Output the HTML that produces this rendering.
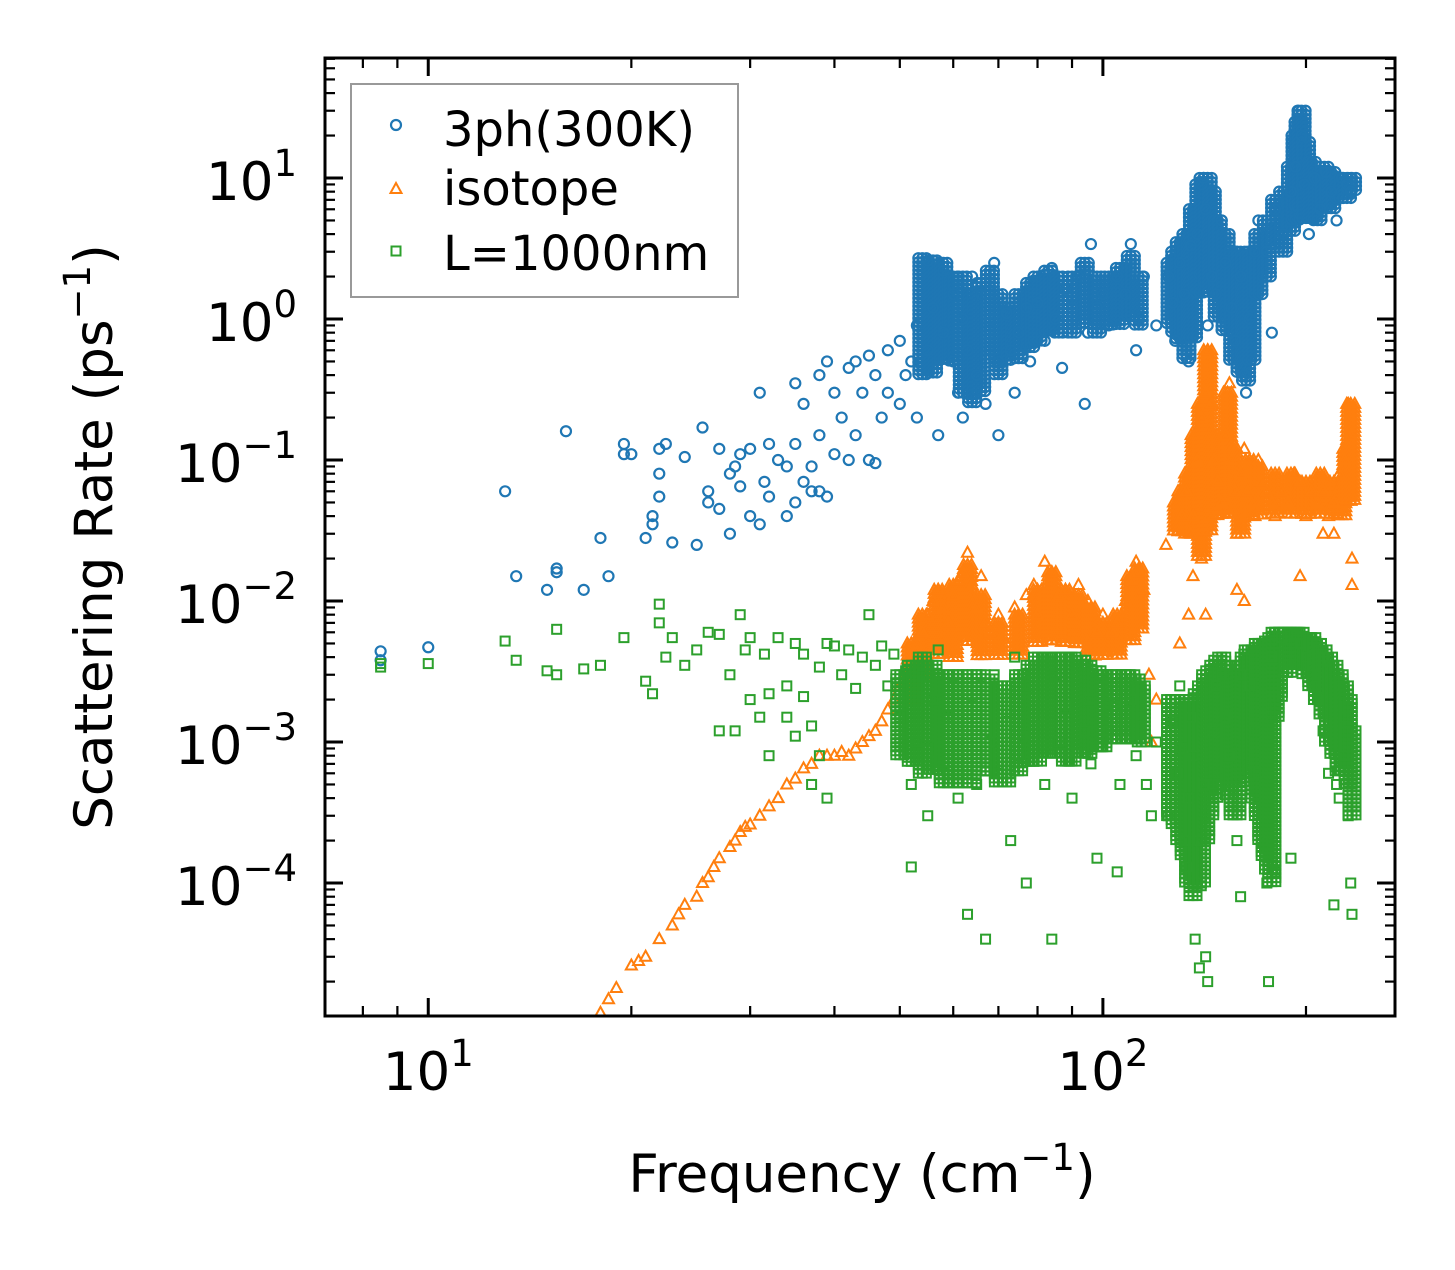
<!DOCTYPE html>
<html><head><meta charset="utf-8"><style>
body{margin:0;background:#fff}
svg text{font-family:"DejaVu Sans","Liberation Sans",sans-serif;fill:#000}
</style></head><body>
<svg id="chart" width="1455" height="1265" viewBox="0 0 1455 1265" xmlns="http://www.w3.org/2000/svg">
<g id="plot"></g>
<g id="axes"></g>
</svg>
<script>
// ---- data ----
const blueFreq=[8.5,8.5,10,13,13.5,15,15.5,15.5,16,17,18,18.5,19.5,19.5,20,21,21.5,21.5,22,22,22,22.5,23,24,25,25.5,26,26,27,27,28,28,28.5,29,29,30,30,31,31,31.5,32,32,33,34,34,35,35,35,36,36,37,37,38,38,38,39,39,40,40,41,42,42,43,43,44,45,45,46,46,47,48,48,50,50,51,52,53,53,55,55,56,57,58,58,60,60,61,62,62,63,64,65,66,67,68,69,70,70,72,73,74,75,77,78,80,82,84,85,87,88,90,92,94,95,96,98,100,102,105,108,110,112,113,115,120,125,127,128,130,132,134,135,138,140,141,142,143,145,147,150,152,155,157,160,162,163,165,168,170,175,178,180,185,190,193,195,197,199,202,206,210,214,218,222,226,230,233];
const blueRate=[0.0044,0.0038,0.0047,0.06,0.015,0.012,0.016,0.017,0.16,0.012,0.028,0.015,0.13,0.11,0.11,0.028,0.04,0.035,0.055,0.08,0.12,0.13,0.026,0.105,0.025,0.17,0.05,0.06,0.12,0.045,0.08,0.03,0.09,0.065,0.11,0.04,0.12,0.035,0.3,0.07,0.13,0.055,0.1,0.04,0.09,0.35,0.13,0.05,0.07,0.25,0.09,0.06,0.15,0.06,0.4,0.055,0.5,0.11,0.3,0.2,0.1,0.45,0.15,0.5,0.3,0.1,0.55,0.095,0.4,0.2,0.6,0.3,0.7,0.25,0.4,0.5,0.9,0.2,0.6,2.6,1.2,0.15,2.2,0.8,1.5,0.5,0.3,1.0,0.2,0.6,2.0,0.4,1.5,0.25,1.0,2.5,0.5,0.15,1.1,0.6,0.3,0.8,1.2,0.5,1.3,0.7,2.3,1.0,0.45,1.6,1.2,2.0,0.25,0.8,3.4,1.2,1.5,0.9,2.0,1.5,3.4,0.6,1.0,2.0,0.9,2.0,1.3,0.7,2.5,1.5,0.5,3.3,4,9,10,6,0.9,2.0,1.5,5,2.5,1.2,0.7,2.0,0.4,0.3,1.0,3,5,3,0.8,6,4,8,12,30,20,9,4,10,6,11,8,5,10,9,8,2.3,3];
const blueBandFreq=[54,56,58,60,62,64,66,68,70,72,75,78,80,83,86,90,94,98,102,106,110,113,126,128,130,133,136,139,141,143,145,148,152,156,160,163,166,170,175,180,185,190,193,195,197,200,204,208,213,218,224,230,234];
const blueBandLo=[0.4,0.4,0.5,0.5,0.3,0.25,0.3,0.5,0.4,0.5,0.5,0.6,0.7,0.8,0.8,0.8,0.9,0.8,0.9,0.9,1,0.9,0.9,0.8,0.7,0.5,0.7,1.5,2,1.8,1.5,1,0.8,0.5,0.4,0.35,0.5,1.5,2,3,3,4,5,6,6,5,5,5,6,6,7,7,8];
const blueBandHi=[2.7,2.6,2.5,2,2,1.5,1.8,2.2,1.5,1.2,1.5,1.8,2,2.2,2,2,2.5,2,2,2.3,2.8,2,2.5,3,3.5,4,6,9,10,10,8,5,4,3,3,2,3,4,5,7,8,12,20,25,30,18,13,11,12,11,10,10,10];

const orangeFreq=[18,18.5,19,20,20.5,21,22,23,23.5,24,25,25.5,26,26.5,27,28,28.5,29,29.5,30,31,32,33,34,35,36,37,38,39,40,41,42,43,44,45,46,47,48,49,50,51,52,53,54,55,56,57,58,59,60,61,62,63,64,65,66,67,68,70,72,74,75,77,79,80,82,84,86,88,90,92,95,98,100,103,105,108,110,112,113,115,117,118,120,130,131,133,135,136,138,140,142,143,144,145,146,148,150,152,154,155,157,158,160,162,164,166,168,170,172,175,178,180,184,188,192,196,200,204,208,212,216,220,224,228,231,233,234,234,134,136,140,142,158,162,196,212,220,124];
const orangeRate=[1.2e-5,1.5e-5,1.8e-5,2.6e-5,2.8e-5,3e-5,4e-5,5e-5,6e-5,7e-5,8e-5,1e-4,1.1e-4,1.3e-4,1.5e-4,1.8e-4,2e-4,2.3e-4,2.5e-4,2.6e-4,3e-4,3.5e-4,4e-4,5e-4,5.5e-4,6.5e-4,7e-4,8e-4,8e-4,8e-4,8.5e-4,8e-4,9e-4,1e-3,1.1e-3,1.2e-3,1.4e-3,1.7e-3,2e-3,2.5e-3,3e-3,3.2e-3,4e-3,6e-3,8e-3,1e-2,1.2e-2,9e-3,7e-3,1.1e-2,1.4e-2,1.6e-2,2.2e-2,1.3e-2,9e-3,1.5e-2,7e-3,6e-3,8e-3,5e-3,9e-3,7e-3,1.1e-2,1.3e-2,8e-3,1.9e-2,1.6e-2,1.1e-2,1.2e-2,8e-3,1.3e-2,1e-2,6e-3,8e-3,6e-3,7e-3,1e-2,1.4e-2,1.9e-2,1.6e-2,1.2e-2,3e-3,1e-3,2e-3,5e-3,4e-2,6e-2,3e-2,4e-2,0.1,0.2,0.3,0.6,0.5,0.25,0.1,0.07,0.05,0.15,0.35,0.1,0.06,0.03,0.08,0.12,0.06,0.05,0.04,0.1,0.07,0.06,0.05,0.04,0.06,0.05,0.08,0.07,0.04,0.06,0.05,0.06,0.04,0.05,0.08,0.1,0.25,0.15,0.02,0.013,0.008,0.015,0.02,0.008,0.012,0.01,0.015,0.03,0.03,0.025,0.005];
const orangeBandFreq=[52,54,57,60,63,66,70,75,80,84,88,92,96,100,105,110,113,129,131,134,137,140,143,146,150,153,156,160,165,170,180,190,200,210,220,226,230,233];
const orangeBandLo=[2e-3,3e-3,4e-3,4e-3,5e-3,4e-3,4e-3,4e-3,5e-3,5e-3,5e-3,5e-3,4e-3,4e-3,4e-3,5e-3,6e-3,0.03,0.03,0.03,0.03,0.02,0.03,0.04,0.04,0.05,0.04,0.03,0.04,0.04,0.04,0.04,0.04,0.04,0.04,0.04,0.05,0.05];
const orangeBandHi=[5e-3,8e-3,1.2e-2,1.3e-2,1.8e-2,1.1e-2,7e-3,8e-3,1.2e-2,1.6e-2,1.2e-2,1.1e-2,9e-3,7e-3,8e-3,1.5e-2,1.7e-2,0.05,0.06,0.08,0.15,0.25,0.6,0.15,0.07,0.3,0.12,0.08,0.1,0.09,0.08,0.08,0.07,0.08,0.07,0.06,0.12,0.25];

const greenFreq=[8.5,8.5,10,13,13.5,15,15.5,15.5,17,18,19.5,21,21.5,22,22,22.5,23,24,25,26,27,27,28,28.5,29,29.5,30,30,31,31.5,32,32,33,34,34,35,35,36,36,37,37,38,38,39,39,40,41,42,43,44,45,46,47,48,49,50,51,52,52,53,54,55,55,56,57,58,59,60,61,62,63,64,65,66,67,68,69,70,72,73,74,75,76,77,78,80,82,84,85,86,88,90,92,94,95,96,98,100,102,104,105,106,108,110,112,114,116,118,120,125,127,129,130,131,132,133,134,135,136,137,138,139,140,141,142,143,145,147,148,150,152,154,156,158,160,162,165,168,170,172,175,176,178,180,184,188,192,196,200,204,208,212,216,220,222,224,227,229,231,233,234,180,160,190];
const greenRate=[0.0034,0.0036,0.0036,0.0052,0.0038,0.0032,0.003,0.0063,0.0033,0.0035,0.0055,0.0027,0.0022,0.0095,0.007,0.004,0.0055,0.0035,0.0045,0.006,0.0012,0.0058,0.003,0.0012,0.008,0.0045,0.0055,0.002,0.0015,0.0042,0.0022,0.0008,0.0055,0.0025,0.0015,0.005,0.0011,0.0021,0.0042,0.0005,0.0013,0.0034,0.0008,0.005,0.0004,0.0048,0.003,0.0045,0.0024,0.004,0.008,0.0035,0.0048,0.0025,0.0042,0.0015,0.0032,0.0005,0.00013,0.001,0.003,0.0009,0.0003,0.002,0.0045,0.0007,0.0015,0.0025,0.0004,0.0012,0.00006,0.0018,0.0005,0.0025,0.00004,0.001,0.003,0.0006,0.0014,0.0002,0.004,0.0008,0.0011,0.0001,0.0025,0.0015,0.0005,0.00004,0.003,0.001,0.0018,0.0004,0.0035,0.0012,0.002,0.0007,0.00015,0.0025,0.0012,0.0018,0.00012,0.0005,0.003,0.002,0.0008,0.0015,0.0005,0.0003,0.001,0.0003,0.0014,0.0006,0.0025,0.0009,0.0002,0.00013,0.0004,0.0015,0.0008,0.00004,0.0002,0.000025,0.0001,0.0005,0.00003,0.00002,0.0012,0.0025,0.0006,0.003,0.0015,0.0008,0.0004,0.0002,0.003,0.0045,0.0025,0.0012,0.0006,0.0002,0.0001,0.00002,0.004,0.005,0.0055,0.006,0.0058,0.005,0.004,0.003,0.002,0.0012,0.0006,0.00007,0.0005,0.0004,0.0008,0.0015,0.0003,0.0001,0.00006,0.00012,0.00008,0.00015];
const greenBandFreq=[50,52,54,56,58,60,62,64,66,68,70,72,75,78,80,83,85,88,90,93,95,98,100,103,105,108,110,112,114,126,128,130,132,134,136,138,140,142,144,146,148,150,152,154,156,158,160,162,164,166,168,170,172,174,176,178,180,182,185,188,192,196,200,204,208,212,216,220,224,228,231,234];
const greenBandLo=[8e-4,7e-4,6e-4,6e-4,5e-4,5e-4,5e-4,5e-4,6e-4,6e-4,5e-4,5e-4,6e-4,7e-4,7e-4,8e-4,8e-4,7e-4,7e-4,8e-4,8e-4,9e-4,9e-4,1e-3,1e-3,1e-3,1e-3,1e-3,1e-3,3e-4,2.5e-4,2e-4,1.5e-4,1e-4,8e-5,9e-5,1e-4,2e-4,3e-4,4e-4,5e-4,6e-4,5e-4,4e-4,3e-4,3e-4,5e-4,1e-3,8e-4,6e-4,4e-4,3e-4,2e-4,1.5e-4,1.2e-4,1e-4,1.5e-3,2e-3,3e-3,3e-3,3.5e-3,3.5e-3,3e-3,2.5e-3,2e-3,1.5e-3,1e-3,8e-4,6e-4,6e-4,5e-4,3e-4];
const greenBandHi=[3e-3,3.5e-3,4e-3,3.5e-3,3e-3,3e-3,3e-3,3e-3,3e-3,2.8e-3,2.5e-3,2.5e-3,3e-3,3.5e-3,4e-3,4e-3,4e-3,4e-3,4e-3,3.8e-3,3.5e-3,3.2e-3,3e-3,3e-3,3e-3,3e-3,3e-3,2.8e-3,2.5e-3,2e-3,2e-3,2e-3,1.9e-3,1.8e-3,2e-3,2.2e-3,2.5e-3,3e-3,3.2e-3,3.5e-3,3.8e-3,4e-3,3.5e-3,3e-3,3e-3,3e-3,3.5e-3,4e-3,4.2e-3,4.5e-3,4.5e-3,5e-3,5e-3,5e-3,5.2e-3,5.5e-3,6e-3,6e-3,6e-3,6e-3,6e-3,6e-3,5.5e-3,5.5e-3,5e-3,4.5e-3,4e-3,3.5e-3,3e-3,2.5e-3,2e-3,1.2e-3];

const xTickVals=[10,100];
const xTickLabels=["1","2"];
const yTickVals=[10,1,0.1,0.01,0.001,0.0001];
const yTickLabels=["1","0","\u22121","\u22122","\u22123","\u22124"];

// ---- scales ----
const L=325,R=1395,T=58,B=1016;
const xmin=Math.log10(7.03),xmax=Math.log10(271);
const ymin=-4.943,ymax=1.851;
const xs=v=>L+(Math.log10(v)-xmin)/(xmax-xmin)*(R-L);
const ys=v=>B-(Math.log10(v)-ymin)/(ymax-ymin)*(B-T);
const NS="http://www.w3.org/2000/svg";
const plot=document.getElementById('plot'), axes=document.getElementById('axes');
function mk(tag,attrs,parent){const e=document.createElementNS(NS,tag);for(const k in attrs)e.setAttribute(k,attrs[k]);parent.appendChild(e);return e;}

const clip=mk('clipPath',{id:'cp'},plot);mk('rect',{x:L,y:T,width:R-L,height:B-T},clip);
const colors={blue:'#1f77b4',orange:'#ff7f0e',green:'#2ca02c'};
function marker(kind,cx,cy,g){
  let e;
  if(kind==='blue'){e=mk('circle',{cx:cx,cy:cy,r:5,fill:'none',stroke:colors.blue,'stroke-width':2.2},g);}
  else if(kind==='orange'){e=mk('path',{d:`M${cx},${cy-6} L${cx+5.5},${cy+4} L${cx-5.5},${cy+4} Z`,fill:'none',stroke:colors.orange,'stroke-width':2},g);}
  else {e=mk('rect',{x:cx-4.5,y:cy-4.5,width:9,height:9,fill:'none',stroke:colors.green,'stroke-width':2},g);}
  
  
}
function series(kind,fr,rt,bf,blo,bhi,name){
  const g=mk('g',{'clip-path':'url(#cp)'},plot);
  
  
  for(let i=0;i<bf.length;i++){
    const x=xs(bf[i]),y1=ys(bhi[i]),y2=ys(blo[i]);
    for(let dx=-4;dx<=4;dx+=4)for(let y=y1;y<=y2;y+=4)marker(kind,x+dx,y,g);
  }
  for(let i=0;i<fr.length;i++)marker(kind,xs(fr[i]),ys(rt[i]),g);
}
series('blue',blueFreq,blueRate,blueBandFreq,blueBandLo,blueBandHi,'series-3ph-300k');
series('orange',orangeFreq,orangeRate,orangeBandFreq,orangeBandLo,orangeBandHi,'series-isotope');
series('green',greenFreq,greenRate,greenBandFreq,greenBandLo,greenBandHi,'series-l-1000nm');

// ---- axes ----
const frame=mk('rect',{x:L,y:T,width:R-L,height:B-T,fill:'none',stroke:'#000','stroke-width':3},axes);

function tickLine(x1,y1,x2,y2,w){mk('line',{x1,y1,x2,y2,stroke:'#000','stroke-width':w},axes);}
for(let d=0;d<=2;d++)for(let m=1;m<=9;m++){
  const v=m*Math.pow(10,d);if(v<7.03||v>271)continue;
  const x=xs(v),len=m===1?18:10,w=m===1?3:2.2;
  tickLine(x,B,x,B-len,w);tickLine(x,T,x,T+len,w);
}
xTickVals.forEach((v,i)=>{
  const t=mk('text',{x:xs(v),y:1090,'font-size':53,'text-anchor':'middle'},axes);
  
  t.textContent='10';
  const s=mk('tspan',{dy:-24,'font-size':37},t);s.textContent=xTickLabels[i];
});
for(let d=-5;d<=1;d++)for(let m=1;m<=9;m++){
  const v=m*Math.pow(10,d);const lv=Math.log10(v);if(lv<ymin||lv>ymax)continue;
  const y=ys(v),len=m===1?18:10,w=m===1?3:2.2;
  tickLine(L,y,L+len,y,w);tickLine(R,y,R-len,y,w);
}
yTickVals.forEach((v,i)=>{
  const lab=yTickLabels[i];
  const t=mk('text',{x:297,y:ys(v)+22,'font-size':53,'text-anchor':'end'},axes);
  
  t.textContent='10';
  const s=mk('tspan',{dy:-24,'font-size':37},t);s.textContent=lab;
});
</script>
<svg style="position:absolute;left:0;top:0" width="1455" height="1265">
<text x="862" y="1192" font-size="53" text-anchor="middle" style="font-family:'DejaVu Sans','Liberation Sans',sans-serif">Frequency (cm<tspan dy="-22" font-size="37">−1</tspan><tspan dy="22">)</tspan></text>
<text transform="translate(112,537) rotate(-90)" font-size="53" text-anchor="middle" style="font-family:'DejaVu Sans','Liberation Sans',sans-serif">Scattering Rate (ps<tspan dy="-22" font-size="37">−1</tspan><tspan dy="22">)</tspan></text>
<g>
<rect x="351" y="84" width="387" height="213" fill="#fff" stroke="#999" stroke-width="2"/>
<g><circle cx="396" cy="125" r="5" fill="none" stroke="#1f77b4" stroke-width="2.2"/><text x="443" y="146" font-size="48" style="font-family:'DejaVu Sans','Liberation Sans',sans-serif">3ph(300K)</text></g>
<g><path d="M396,183 L401.5,193 L390.5,193 Z" fill="none" stroke="#ff7f0e" stroke-width="2"/><text x="443" y="205" font-size="48" style="font-family:'DejaVu Sans','Liberation Sans',sans-serif">isotope</text></g>
<g><rect x="391.5" y="246.5" width="9" height="9" fill="none" stroke="#2ca02c" stroke-width="2"/><text x="443" y="270" font-size="48" style="font-family:'DejaVu Sans','Liberation Sans',sans-serif">L=1000nm</text></g>
</g>
</svg>
</body></html>
